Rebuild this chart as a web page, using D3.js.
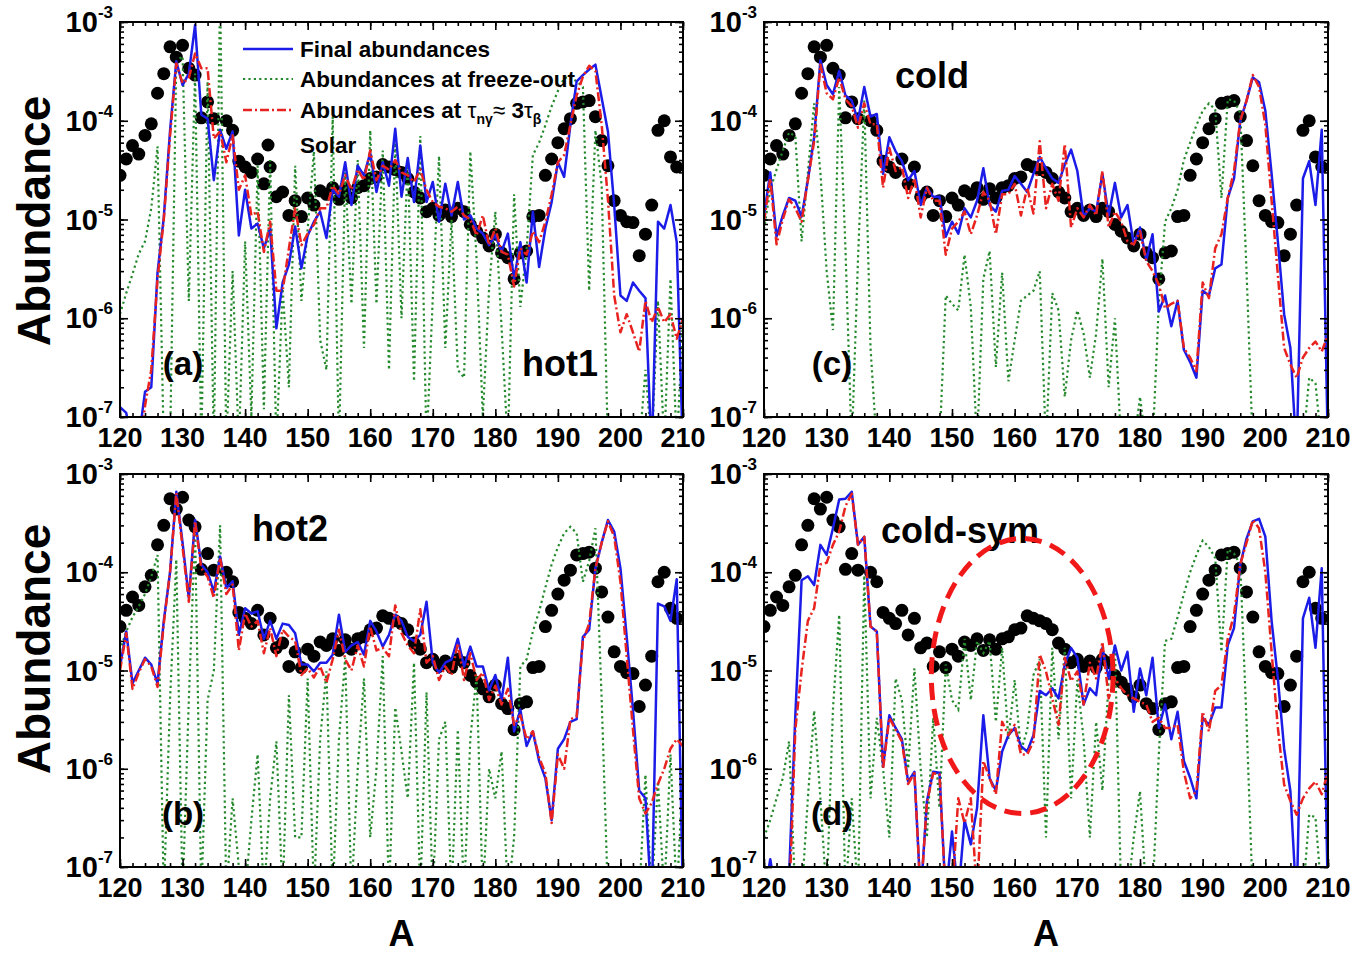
<!DOCTYPE html>
<html>
<head>
<meta charset="utf-8">
<script src="https://cdn.jsdelivr.net/npm/d3@7"></script>
<style>
  body { margin: 0; background: #fff; }
  text { font-family: "Liberation Sans", Arial, sans-serif; font-weight: bold; fill: #000; }
</style>
</head>
<body>
<svg id="chart" width="1355" height="953"></svg>
<script>
// Mass numbers A = 120 … 210
const massNumbers = [
  120,121,122,123,124,125,126,127,128,129,
  130,131,132,133,134,135,136,137,138,139,
  140,141,142,143,144,145,146,147,148,149,
  150,151,152,153,154,155,156,157,158,159,
  160,161,162,163,164,165,166,167,168,169,
  170,171,172,173,174,175,176,177,178,179,
  180,181,182,183,184,185,186,187,188,189,
  190,191,192,193,194,195,196,197,198,199,
  200,201,202,203,204,205,206,207,208,209,
  210
];

// Solar r-process abundances (null = no point)
const solar = [
  2.8e-5,4.1e-5,5.6e-5,4.6e-5,7.1e-5,9.3e-5,1.9e-4,3.0e-4,5.6e-4,4.4e-4,
  5.8e-4,3.4e-4,2.9e-4,1.07e-4,1.55e-4,1.05e-4,null,1.0e-4,8.0e-5,3.9e-5,
  3.4e-5,3.0e-5,4.1e-5,2.3e-5,3.4e-5,1.7e-5,1.9e-5,1.1e-5,1.55e-5,1.07e-5,
  1.65e-5,1.4e-5,1.95e-5,1.8e-5,2.1e-5,1.6e-5,2.05e-5,1.65e-5,2.1e-5,2.2e-5,
  2.6e-5,2.7e-5,3.6e-5,3.4e-5,3.2e-5,3.0e-5,2.6e-5,1.9e-5,1.65e-5,1.2e-5,
  1.3e-5,1.1e-5,1.25e-5,1.07e-5,1.3e-5,1.2e-5,8.9e-6,7.6e-6,6.5e-6,5.4e-6,
  7.1e-6,4.6e-6,4.1e-6,2.5e-6,4.6e-6,4.8e-6,1.07e-5,1.1e-5,2.8e-5,4.1e-5,
  6.0e-5,8.3e-5,1.05e-4,1.5e-4,1.55e-4,1.6e-4,1.1e-4,6.3e-5,3.5e-5,1.55e-5,
  1.1e-5,9.5e-6,9.3e-6,4.3e-6,7.1e-6,1.4e-5,8.0e-5,1.0e-4,4.3e-5,3.4e-5,
  null
];

// (a) hot1
const hot1Final = [
  1.26e-7,1.1e-7,5e-8,6e-8,1.8e-7,2.0e-7,2.9e-6,1.05e-5,7.9e-5,4.0e-4,
  2.3e-4,3.0e-4,9.3e-4,1.15e-4,1.05e-4,2.5e-5,8.1e-5,5.2e-5,7.8e-5,6.9e-6,
  2.0e-5,8.1e-6,9.1e-6,5.1e-6,8.1e-6,7.9e-7,2.3e-6,3.5e-6,8.5e-6,3.2e-6,
  6.9e-6,9.5e-6,1.2e-5,6.5e-6,2.0e-5,1.7e-5,3.8e-5,1.4e-5,3.5e-5,2.8e-5,
  4.7e-5,1.9e-5,3.8e-5,2.2e-5,8.3e-5,1.7e-5,4.2e-5,1.5e-5,5.6e-5,1.5e-5,
  2.4e-5,9.5e-6,2.3e-5,1.1e-5,2.4e-5,1.0e-5,1.1e-5,8.1e-6,7.2e-6,5.5e-6,
  6.9e-6,4.7e-6,7.2e-6,2.5e-6,5.9e-6,2.3e-6,1.2e-5,3.3e-6,8.1e-6,1.5e-5,
  3.8e-5,2.7e-5,9.1e-5,2.5e-4,2.9e-4,3.3e-4,3.7e-4,1.7e-4,7.8e-5,1.4e-5,
  1.7e-6,1.5e-6,2.3e-6,1.9e-6,1.6e-6,4e-8,9.5e-6,8.1e-6,1.4e-5,5.9e-6,
  4e-8
];
const hot1Freeze = [
  1.1e-6,1.8e-6,2.8e-6,4.5e-6,6e-6,1.3e-5,5.5e-5,5e-8,5e-8,4.0e-4,
  4.5e-4,1.5e-6,3.0e-4,5e-8,2.5e-4,5e-8,2e-3,5e-8,3e-6,5e-8,
  6e-6,1e-7,3.5e-5,1.2e-7,4e-5,5e-8,2e-6,2e-7,3.5e-5,1.5e-6,
  8e-6,4.9e-5,6e-7,3e-7,1.1e-4,5e-8,3e-5,1.4e-6,4e-5,5e-7,
  8e-5,1.4e-6,5e-5,3e-7,6e-5,1e-6,4e-5,2.3e-7,7e-5,5e-8,
  1.6e-6,4.4e-5,5e-7,1e-5,3e-7,2.5e-7,4.9e-5,4e-6,1e-7,2e-6,
  1.2e-5,8e-7,5e-8,1.8e-5,1.3e-6,5e-6,4.5e-5,6e-5,9e-5,1.4e-4,
  2.0e-4,2.7e-4,2.8e-4,2.5e-4,2.2e-4,1.9e-6,8e-5,2.2e-5,5e-8,5e-8,
  5e-8,1e-7,5e-8,5e-8,3e-7,5e-8,1.5e-6,5e-8,2.5e-6,5e-8,
  1e-6
];
const hot1Tau = [
  4e-8,4e-8,4e-8,4e-8,1.3e-7,3e-7,2.5e-6,1.0e-5,7e-5,3.8e-4,
  2.4e-4,2.7e-4,4.8e-4,3.4e-4,3.4e-4,6.6e-5,7.8e-5,3.8e-5,7.1e-5,2.0e-5,
  2.8e-5,1.1e-5,1.2e-5,4.7e-6,9.5e-6,1.9e-6,1.9e-6,5.1e-6,1.3e-5,5.5e-6,
  7.2e-6,8.9e-6,1.3e-5,1.3e-5,2.2e-5,1.8e-5,2.8e-5,2.0e-5,3.2e-5,2.5e-5,
  5.0e-5,2.5e-5,3.5e-5,3.2e-5,4.0e-5,3.0e-5,2.8e-5,2.4e-5,3.2e-5,2.0e-5,
  1.5e-5,1.35e-5,1.3e-5,1.2e-5,1.35e-5,1.1e-5,1.0e-5,6.9e-6,1.1e-5,5.5e-6,
  8.1e-6,4.7e-6,4.4e-6,2.1e-6,5.1e-6,4.4e-6,7.6e-6,5.9e-6,9.5e-6,1.8e-5,
  3.8e-5,4.5e-5,9.1e-5,1.8e-4,2.8e-4,3.6e-4,3.2e-4,9.1e-5,1.6e-5,1.7e-6,
  7.2e-7,1.1e-6,7.2e-7,4.6e-7,1.5e-6,9.1e-7,1.3e-6,9.1e-7,1.1e-6,6.2e-7,
  1.0e-6
];

// (b) hot2
const hot2Final = [
  1.1e-5,2.5e-5,7.4e-6,1.0e-5,1.35e-5,1.15e-5,7.4e-6,3.2e-5,1.0e-4,6.6e-4,
  2.0e-4,5.5e-5,3.4e-4,1.2e-4,1.0e-4,6.3e-5,1.45e-4,6.9e-5,8.1e-5,2.3e-5,
  4.3e-5,3.8e-5,4.0e-5,2.1e-5,3.2e-5,2.1e-5,3.0e-5,2.9e-5,2.4e-5,1.15e-5,
  1.15e-5,9.8e-6,1.2e-5,1.2e-5,1.45e-5,3.7e-5,1.55e-5,1.8e-5,1.95e-5,1.45e-5,
  3.2e-5,2.5e-5,1.75e-5,2.3e-5,3.7e-5,3.2e-5,2.2e-5,2.0e-5,2.3e-5,5.0e-5,
  1.2e-5,9.5e-6,1.2e-5,1.3e-5,2.1e-5,1.1e-5,1.75e-5,1.1e-5,1.1e-5,6.3e-6,
  9e-6,5e-6,1.35e-5,2.4e-6,4e-6,1.7e-6,2.4e-6,1.2e-6,8e-7,3e-7,
  1.6e-6,2.0e-6,3e-6,3.2e-6,2.2e-5,2.6e-5,1.1e-4,2.0e-4,3.4e-4,2.6e-4,
  1.1e-4,2.2e-5,4e-6,6e-7,5e-7,4e-8,4.8e-5,4.5e-5,3.2e-5,8.5e-5,
  4e-8
];
const hot2Freeze = [
  1.6e-5,2.5e-5,3.5e-5,4.5e-5,6e-5,9e-5,1.5e-4,5e-8,5e-6,1.35e-4,
  5e-8,5e-6,2.7e-4,5e-8,5e-6,1e-5,3e-4,5e-8,5e-7,1e-7,
  5e-8,3e-7,1.4e-6,5e-8,5e-7,1.9e-6,5e-8,5.6e-6,2e-7,2e-7,
  8.3e-6,5e-8,2e-6,9.8e-6,5e-8,2e-6,1.35e-5,5e-8,1e-6,8.3e-6,
  2e-7,1e-6,1.4e-5,5e-8,4.2e-6,1.5e-6,5e-7,1.2e-5,5e-8,6e-6,
  5e-8,2e-6,3e-6,5e-8,2.5e-6,5e-8,2e-6,9e-6,5e-8,1e-6,
  5e-7,1.5e-6,5e-8,2e-7,1.1e-5,1.3e-5,2.5e-5,4e-5,7e-5,1.2e-4,
  1.8e-4,2.5e-4,2.9e-4,2.5e-4,8e-5,1.3e-4,2.8e-4,5e-6,5e-8,5e-8,
  5e-8,5e-8,5e-8,5e-8,8.7e-7,5e-8,7.4e-7,5e-8,1.4e-6,5e-8,
  1e-6
];
const hot2Tau = [
  1.0e-5,2.4e-5,6.5e-6,9.5e-6,1.3e-5,1.1e-5,6.8e-6,3.0e-5,1.0e-4,6.4e-4,
  1.8e-4,5.0e-5,3.3e-4,1.1e-4,9e-5,5.5e-5,1.4e-4,6.0e-5,7.5e-5,1.6e-5,
  3.8e-5,2.8e-5,3.2e-5,1.5e-5,2.7e-5,1.4e-5,2.6e-5,2.2e-5,2.0e-5,9e-6,
  1.05e-5,8.5e-6,1.1e-5,7.5e-6,1.3e-5,2.6e-5,1.3e-5,1.0e-5,1.8e-5,1.1e-5,
  2.8e-5,1.6e-5,1.7e-5,1.4e-5,4.6e-5,2.4e-5,1.8e-5,1.5e-5,4.2e-5,1.2e-5,
  1.4e-5,8e-6,1.1e-5,9e-6,1.9e-5,8e-6,1.5e-5,8e-6,9.5e-6,5e-6,
  7e-6,4.5e-6,6.5e-6,2.8e-6,3.5e-6,2.0e-6,2.4e-6,1.3e-6,9e-7,2.8e-7,
  1.4e-6,1.0e-6,3.2e-6,3.4e-6,2.0e-5,3.0e-5,1.1e-4,2.0e-4,3.3e-4,2.3e-4,
  8e-5,1.4e-5,2.5e-6,5e-7,3.5e-7,4.5e-7,7e-7,1.0e-6,1.6e-6,2.0e-6,
  1.7e-6
];

// (c) cold
const coldFinal = [
  1.1e-5,3.0e-5,6.7e-6,1.1e-5,1.65e-5,1.55e-5,1.07e-5,2.5e-5,6.8e-5,4.1e-4,
  2.3e-4,1.85e-4,3.2e-4,1.8e-4,1.6e-4,1.0e-4,2.2e-4,1.1e-4,1.17e-4,2.9e-5,
  6.8e-5,4.9e-5,3.9e-5,2.5e-5,3.1e-5,1.4e-5,2.1e-5,1.7e-5,1.7e-5,6.7e-6,
  9.5e-6,7.2e-6,1.3e-5,1.05e-5,1.55e-5,3.3e-5,1.4e-5,1.2e-5,1.95e-5,2.0e-5,
  2.75e-5,2.3e-5,1.9e-5,2.9e-5,4.3e-5,3.3e-5,2.6e-5,2.35e-5,3.6e-5,5.1e-5,
  3.1e-5,1.07e-5,1.3e-5,1.2e-5,2.9e-5,1.1e-5,2.35e-5,1.05e-5,1.4e-5,5.6e-6,
  8.3e-6,3.9e-6,7.1e-6,1.17e-6,1.7e-6,8.3e-7,1.5e-6,4.8e-7,3.6e-7,2.5e-7,
  1.9e-6,1.7e-6,3.2e-6,3.5e-6,1.65e-5,2.6e-5,1.0e-4,1.6e-4,2.75e-4,2.45e-4,
  1.26e-4,2.9e-5,6.0e-6,1.1e-6,5.0e-7,4e-8,2.6e-5,3.9e-5,1.4e-5,8.1e-5,
  4e-8
];
const coldFreeze = [
  8e-6,2e-5,3.2e-5,5e-5,7.6e-5,7e-5,6e-6,3e-5,1.5e-4,3e-5,
  3e-6,7.6e-7,2.2e-4,5e-6,5e-8,4e-6,1.6e-4,5e-7,5e-8,5e-8,
  5e-8,5e-8,5e-8,5e-8,5e-8,5e-8,5e-8,5e-8,5e-8,1.7e-6,
  1.4e-6,1.2e-6,4.4e-6,1.3e-6,5e-8,2.5e-6,4.8e-6,3.2e-7,2.9e-6,2.3e-7,
  6e-7,1.5e-6,1.7e-6,1.9e-6,3.0e-6,5e-8,1.8e-6,1.2e-6,1.6e-7,6e-7,
  1.2e-6,7e-7,2.5e-7,7e-7,4e-6,2e-7,1e-6,5e-8,5e-8,5e-8,
  1.6e-7,5e-8,5e-8,1.4e-6,9.5e-6,1.3e-5,2e-5,4e-5,6e-5,9e-5,
  1.26e-4,1.5e-4,1.3e-4,1.65e-5,1.65e-4,1.6e-4,1.2e-4,3e-6,5e-8,5e-8,
  5e-8,5e-8,5e-8,5e-8,5e-8,5e-8,5e-8,2.5e-7,2.2e-7,5e-8,
  5e-8
];
const coldTau = [
  9.5e-6,2.6e-5,5.6e-6,1.0e-5,1.6e-5,1.3e-5,9.5e-6,2.5e-5,6.2e-5,3.7e-4,
  1.9e-4,1.65e-4,2.75e-4,1.65e-4,1.4e-4,8.5e-5,1.5e-4,9.2e-5,9.2e-5,2.1e-5,
  5.3e-5,3.1e-5,3.4e-5,1.65e-5,2.6e-5,1.05e-5,2.1e-5,1.55e-5,1.55e-5,4.4e-6,
  8.1e-6,9.5e-6,1.2e-5,7.1e-6,1.1e-5,1.9e-5,1.55e-5,7.1e-6,1.8e-5,1.8e-5,
  2.3e-5,1.1e-5,2.1e-5,1.15e-5,6.2e-5,1.3e-5,2.3e-5,1.55e-5,5.8e-5,8.3e-6,
  1.3e-5,1.05e-5,1.4e-5,1.1e-5,3.1e-5,8.3e-6,1.2e-5,9.5e-6,6.0e-6,5.6e-6,
  7.6e-6,3.8e-6,3.0e-6,2.2e-6,1.26e-6,1.4e-6,1.5e-6,5.0e-7,4.0e-7,2.9e-7,
  2.3e-6,1.6e-6,5.1e-6,7.1e-6,1.65e-5,3.1e-5,1.0e-4,1.6e-4,2.9e-4,2.2e-4,
  9.1e-5,1.55e-5,2.75e-6,5.0e-7,3.4e-7,2.5e-7,4.0e-7,5.0e-7,5.8e-7,4.6e-7,
  6.8e-7
];

// (d) cold-sym
const coldSymFinal = [
  5e-8,1.2e-7,5e-8,5e-8,8e-8,3.5e-6,8.3e-5,9.1e-5,7.4e-5,1.9e-4,
  1.5e-4,2.8e-4,5.5e-4,5.6e-4,6.6e-4,1.9e-4,2.3e-4,2.8e-5,2.5e-5,1.05e-6,
  3.5e-6,2.6e-6,2.0e-6,7.4e-7,9.3e-7,5e-8,4.7e-7,9.3e-7,9.1e-7,5e-8,
  2.3e-7,5e-8,3e-7,1.7e-7,4e-7,3.5e-6,8e-7,6e-7,1.5e-6,2.2e-6,
  2.6e-6,1.7e-6,1.5e-6,2.2e-6,6.2e-6,5.6e-6,6.6e-6,5.2e-6,1.15e-5,1.7e-5,
  1.35e-5,4.5e-6,6.6e-6,5.6e-6,1.7e-5,8.3e-6,1.8e-5,1.0e-5,1.55e-5,3.8e-6,
  1.05e-5,5.6e-6,1.35e-5,2.6e-6,4.5e-6,2.0e-6,3.8e-6,1.2e-6,8.1e-7,5e-7,
  3.3e-6,2.8e-6,4.2e-6,4.2e-6,1.8e-5,2.7e-5,1.2e-4,2.2e-4,3.3e-4,3.5e-4,
  2.3e-4,3.2e-5,8.3e-6,1.6e-6,5.9e-7,4e-8,3.4e-5,5.5e-5,1.7e-5,1.1e-4,
  4e-8
];
const coldSymFreeze = [
  2e-7,3e-7,5e-7,8e-7,1.9e-6,5e-8,5e-8,5e-7,3.9e-6,5e-7,
  5e-8,4e-6,3.7e-5,5e-8,5e-7,5e-8,9.3e-5,5e-7,3.3e-6,1e-6,
  2e-7,8.3e-6,5e-6,1e-6,1.05e-5,1e-6,2e-7,3.3e-6,4e-7,1.15e-5,
  5e-6,4e-6,2.1e-5,5e-6,2e-5,1.5e-5,2e-5,3e-6,1.7e-5,2e-6,
  8e-6,1.5e-6,2.5e-6,9e-6,1.3e-5,2e-7,1.7e-5,2e-6,1.7e-5,5e-7,
  8e-6,2e-6,2e-7,3e-6,6e-7,8e-6,1.8e-5,5e-8,5e-8,2e-7,
  5.9e-7,5e-8,5e-8,1.4e-6,2e-5,2.1e-5,3.5e-5,6e-5,1e-4,1.5e-4,
  2.1e-4,1.8e-4,1.4e-4,1.55e-5,1.7e-4,1.55e-4,1.2e-4,3e-6,5e-8,5e-8,
  5e-8,5e-8,5e-8,5e-8,5e-8,5e-8,5e-8,3.4e-7,3.2e-7,5e-8,
  5e-8
];
const coldSymTau = [
  4e-8,4e-8,4e-8,4e-8,4e-8,2.5e-6,1.0e-5,3.2e-5,4.3e-5,1.2e-4,
  1.25e-4,1.9e-4,2.6e-4,4.7e-4,6.3e-4,1.9e-4,2.3e-4,2.8e-5,2.5e-5,1.0e-6,
  3.3e-6,2.5e-6,1.9e-6,7e-7,9e-7,5e-8,4.5e-7,9e-7,8.8e-7,5e-8,
  5e-8,5e-7,2.8e-7,5e-7,5e-8,1.2e-6,8e-7,5.5e-7,3e-6,2.2e-6,
  2.8e-6,1.4e-6,1.4e-6,1.9e-6,1.45e-5,9.8e-6,5.2e-6,2.8e-6,1.35e-5,7.8e-6,
  9.8e-6,4.5e-6,1.2e-5,8.3e-6,1.95e-5,5.2e-6,8.3e-6,6.6e-6,5.6e-6,5.2e-6,
  4.8e-6,4.5e-6,3.0e-6,3.3e-6,2.6e-6,2.6e-6,2.8e-6,9.3e-7,5e-7,5.9e-7,
  3.8e-6,2.4e-6,6.2e-6,7.1e-6,2.1e-5,3.7e-5,1.2e-4,2.0e-4,3.4e-4,2.8e-4,
  1.0e-4,1.55e-5,2.6e-6,6.9e-7,4.7e-7,3.4e-7,5e-7,6.3e-7,7.4e-7,5.5e-7,
  9.3e-7
];

// Axis ticks and labels
const xTickValues = [120,130,140,150,160,170,180,190,200,210];
const xMinorTicks = [120,122,124,126,128,130,132,134,136,138,140,142,144,146,148,150,152,154,156,158,
                     160,162,164,166,168,170,172,174,176,178,180,182,184,186,188,190,192,194,196,198,200,202,204,206,208,210];
const yTickValues = [1e-3,1e-4,1e-5,1e-6,1e-7];
const yTickExponents = ["-3","-4","-5","-6","-7"];
const legendLabels = ["Final abundances","Abundances at freeze-out","Abundances at ","Solar"];

const COLORS = { final: "#1c1ce8", freeze: "#23892a", tau: "#e8231f", solar: "#000" };

const svg = d3.select("#chart");
svg.append("rect").attr("width",1355).attr("height",953).attr("fill","#fff");
const defs = svg.append("defs");

const panels = [
  { id:"a", left:120, right:683, top:22,  bottom:417, tag:"(a)", name:"hot1",
    final:hot1Final, freeze:hot1Freeze, tau:hot1Tau, tagPos:[183,375], namePos:[560,376] },
  { id:"b", left:120, right:683, top:474, bottom:867, tag:"(b)", name:"hot2",
    final:hot2Final, freeze:hot2Freeze, tau:hot2Tau, tagPos:[183,825], namePos:[290,541] },
  { id:"c", left:764, right:1328, top:22, bottom:417, tag:"(c)", name:"cold",
    final:coldFinal, freeze:coldFreeze, tau:coldTau, tagPos:[832,375], namePos:[932,88] },
  { id:"d", left:764, right:1328, top:474, bottom:867, tag:"(d)", name:"cold-sym",
    final:coldSymFinal, freeze:coldSymFreeze, tau:coldSymTau, tagPos:[832,825], namePos:[960,543] }
];

function series(values) {
  return massNumbers.map((a, i) => ({ a, v: values[i] }));
}

panels.forEach(p => {
  const x = d3.scaleLinear().domain([120, 210]).range([p.left, p.right]);
  const y = d3.scaleLog().domain([1e-7, 1e-3]).range([p.bottom, p.top]);
  p.x = x; p.y = y;

  defs.append("clipPath").attr("id", "clip-" + p.id)
    .append("rect").attr("x", p.left).attr("y", p.top)
    .attr("width", p.right - p.left).attr("height", p.bottom - p.top);

  const g = svg.append("g");
  const plot = g.append("g").attr("clip-path", `url(#clip-${p.id})`);

  // solar points
  plot.selectAll("circle.solar")
    .data(series(solar).filter(d => d.v != null))
    .join("circle").attr("class", "solar")
    .attr("cx", d => x(d.a)).attr("cy", d => y(d.v)).attr("r", 6.5)
    .attr("fill", COLORS.solar);

  const line = d3.line().defined(d => d.v != null).x(d => x(d.a)).y(d => y(d.v));

  plot.append("path").datum(series(p.freeze)).attr("d", line)
    .attr("fill", "none").attr("stroke", COLORS.freeze).attr("stroke-width", 2.2)
    .attr("stroke-dasharray", "2.2,3.2");
  plot.append("path").datum(series(p.final)).attr("d", line)
    .attr("fill", "none").attr("stroke", COLORS.final).attr("stroke-width", 2.5)
    .attr("stroke-linejoin", "round");
  plot.append("path").datum(series(p.tau)).attr("d", line)
    .attr("fill", "none").attr("stroke", COLORS.tau).attr("stroke-width", 2.5)
    .attr("stroke-dasharray", "9,3,2,3").attr("stroke-linejoin", "round");

  // inward ticks on all four sides
  const tickStyle = sel => {
    sel.select(".domain").remove();
    sel.selectAll("line").attr("stroke", "#000").attr("stroke-width", 1.6);
  };
  g.append("g").attr("transform", `translate(0,${p.bottom})`)
    .call(d3.axisBottom(x).tickValues(xMinorTicks).tickSize(-4).tickFormat("")).call(tickStyle);
  g.append("g").attr("transform", `translate(0,${p.bottom})`)
    .call(d3.axisBottom(x).tickValues(xTickValues).tickSize(-8).tickFormat("")).call(tickStyle);
  g.append("g").attr("transform", `translate(0,${p.top})`)
    .call(d3.axisTop(x).tickValues(xMinorTicks).tickSize(-4).tickFormat("")).call(tickStyle);
  g.append("g").attr("transform", `translate(0,${p.top})`)
    .call(d3.axisTop(x).tickValues(xTickValues).tickSize(-8).tickFormat("")).call(tickStyle);
  g.append("g").attr("transform", `translate(${p.left},0)`)
    .call(d3.axisLeft(y).tickValues(y.ticks()).tickSize(-4).tickFormat("")).call(tickStyle);
  g.append("g").attr("transform", `translate(${p.left},0)`)
    .call(d3.axisLeft(y).tickValues(yTickValues).tickSize(-8).tickFormat("")).call(tickStyle);
  g.append("g").attr("transform", `translate(${p.right},0)`)
    .call(d3.axisRight(y).tickValues(y.ticks()).tickSize(-4).tickFormat("")).call(tickStyle);
  g.append("g").attr("transform", `translate(${p.right},0)`)
    .call(d3.axisRight(y).tickValues(yTickValues).tickSize(-8).tickFormat("")).call(tickStyle);

  // frame
  g.append("rect").attr("x", p.left).attr("y", p.top)
    .attr("width", p.right - p.left).attr("height", p.bottom - p.top)
    .attr("fill", "none").attr("stroke", "#000").attr("stroke-width", 2);

  // x tick labels
  g.selectAll("text.xt").data(xTickValues).join("text").attr("class", "xt")
    .attr("x", d => x(d)).attr("y", p.bottom + 30)
    .attr("text-anchor", "middle").attr("font-size", 27).text(d => d);

  // y tick labels 10^n
  yTickValues.forEach((v, i) => {
    const t = g.append("text").attr("x", p.left - 7).attr("y", y(v) + 10)
      .attr("text-anchor", "end").attr("font-size", 29);
    t.append("tspan").text("10");
    t.append("tspan").attr("font-size", 17).attr("dy", -14).text(yTickExponents[i]);
  });

  // panel annotations
  g.append("text").attr("x", p.tagPos[0]).attr("y", p.tagPos[1])
    .attr("text-anchor", "middle").attr("font-size", 33).text(p.tag);
  g.append("text").attr("x", p.namePos[0]).attr("y", p.namePos[1])
    .attr("text-anchor", "middle").attr("font-size", 36).text(p.name);
});

// axis titles
[221, 649].forEach(cy => {
  svg.append("text").attr("transform", `translate(50,${cy}) rotate(-90)`)
    .attr("text-anchor", "middle").attr("font-size", 46).text("Abundance");
});
[panels[1], panels[3]].forEach(p => {
  svg.append("text").attr("x", (p.left + p.right) / 2).attr("y", 946)
    .attr("text-anchor", "middle").attr("font-size", 36).text("A");
});

// legend in panel (a)
const lg = svg.append("g");
const legendRows = [49, 79, 110, 145];
const lx0 = 243, lx1 = 293, tx = 300;
lg.append("line").attr("x1", lx0).attr("x2", lx1).attr("y1", legendRows[0]).attr("y2", legendRows[0])
  .attr("stroke", COLORS.final).attr("stroke-width", 2.5);
lg.append("line").attr("x1", lx0).attr("x2", lx1).attr("y1", legendRows[1]).attr("y2", legendRows[1])
  .attr("stroke", COLORS.freeze).attr("stroke-width", 2.2).attr("stroke-dasharray", "2.2,3.2");
lg.append("line").attr("x1", lx0).attr("x2", lx1).attr("y1", legendRows[2]).attr("y2", legendRows[2])
  .attr("stroke", COLORS.tau).attr("stroke-width", 2.5).attr("stroke-dasharray", "9,3,2,3");
lg.append("circle").attr("cx", 268).attr("cy", legendRows[3]).attr("r", 6.5).attr("fill", COLORS.solar);

[0, 1, 3].forEach(i => {
  lg.append("text").attr("x", tx).attr("y", legendRows[i] + 8).attr("font-size", 22.5).text(legendLabels[i]);
});
const tauText = lg.append("text").attr("x", tx).attr("y", legendRows[2] + 8).attr("font-size", 22.5);
tauText.append("tspan").text(legendLabels[2]);
tauText.append("tspan").attr("font-weight", "normal").text("\u03c4");
tauText.append("tspan").attr("font-size", 14).attr("dy", 6).text("n\u03b3");
tauText.append("tspan").attr("dy", -6).attr("font-weight", "normal").text("\u2248 ");
tauText.append("tspan").text("3");
tauText.append("tspan").attr("font-weight", "normal").text("\u03c4");
tauText.append("tspan").attr("font-size", 14).attr("dy", 6).text("\u03b2");

// dashed ellipse marking the 150–175 region in panel (d)
const pd = panels[3];
const ecx = pd.x(161.2), ecy = pd.y(8.8e-6);
const erx = pd.x(175.7) - ecx, ery = (pd.y(3.5e-7) - pd.y(2.2e-4)) / 2;
svg.append("ellipse").attr("cx", ecx).attr("cy", ecy).attr("rx", erx).attr("ry", ery)
  .attr("fill", "none").attr("stroke", "#f01818").attr("stroke-width", 5)
  .attr("stroke-dasharray", "17,9");
</script>
</body>
</html>
